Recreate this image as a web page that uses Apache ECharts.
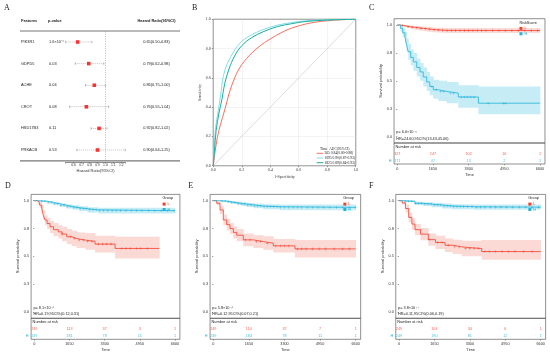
<!DOCTYPE html>
<html><head><meta charset="utf-8">
<script src="https://cdn.jsdelivr.net/npm/echarts@6/dist/echarts.min.js"></script>
<style>html,body{margin:0;padding:0;background:#fff}#c{width:550px;height:354px}</style>
</head><body><div id="c"></div>
<script>
// ================= DATA =================
// Panel A : forest plot
const features = ['PIK3R1','GDPD5','ACHE','CROT','HSD17B3','PRKACB'];
const pValues  = ['1.6×10⁻⁴','0.03','0.04','0.08','0.11','0.53'];
const hr       = [0.65,0.79,0.86,0.76,0.92,0.90];
const hrLow    = [0.50,0.62,0.75,0.55,0.82,0.64];
const hrHigh   = [0.83,0.98,1.00,1.04,1.02,1.25];
const hrTicks  = [0.6,0.7,0.8,0.9,1.0,1.1,1.2];

// Panel B : time-dependent ROC
const rocLegend = ['365 0.84(0.80-0.88)','1095 0.90(0.87-0.93)','1825 0.89(0.84-0.93)'];
const rocTicks = [0,0.2,0.4,0.6,0.8,1.0];
const roc365  = [[0,0],[0.01,0.08],[0.03,0.2],[0.05,0.28],[0.08,0.38],[0.11,0.49],[0.15,0.6],[0.2,0.69],[0.27,0.77],[0.33,0.82],[0.39,0.86],[0.5,0.92],[0.6,0.955],[0.7,0.978],[0.8,0.99],[0.9,0.997],[1,1]];
const roc1095 = [[0,0],[0.005,0.1],[0.015,0.25],[0.035,0.38],[0.05,0.47],[0.07,0.61],[0.1,0.7],[0.15,0.79],[0.2,0.85],[0.27,0.895],[0.35,0.93],[0.45,0.96],[0.55,0.978],[0.65,0.99],[0.8,0.997],[1,1]];
const roc1825 = [[0,0],[0.008,0.1],[0.02,0.24],[0.04,0.36],[0.06,0.45],[0.08,0.56],[0.11,0.66],[0.15,0.75],[0.2,0.82],[0.27,0.875],[0.35,0.915],[0.45,0.95],[0.55,0.97],[0.65,0.985],[0.8,0.995],[1,1]];

// Kaplan-Meier common
const riskTimes = [0,1650,3300,4950,6600];
const survTicks = [0,0.25,0.5,0.75,1];
const survTickLabels = ['0.0','0.3','0.5','0.8','1.0'];

// Panel C
const cLTime = [0,150,300,450,600,800,1000,1200,1400,1600,1800,2050,2300,6600];
const cLSurv = [1,0.995,0.99,0.985,0.98,0.975,0.97,0.966,0.962,0.958,0.955,0.952,0.95,0.95];
const cLLow  = [1,0.99,0.982,0.974,0.966,0.958,0.951,0.945,0.94,0.936,0.933,0.93,0.928,0.928];
const cLHigh = [1,1,0.997,0.995,0.993,0.99,0.987,0.984,0.981,0.978,0.976,0.975,0.974,0.974];
const cLCensor = [250,500,700,900,1100,1300,1500,1700,1900,2100,2300,2500,2700,2900,3100,3300,3500,3700,3900,4100,4400,4700,5000,5300,5600,5900,6200,6500];
const cHTime = [0,150,250,356,430,509,620,740,900,1050,1200,1360,1500,1665,1900,2285,2820,3750,6600];
const cHSurv = [1,0.97,0.93,0.89,0.82,0.76,0.71,0.67,0.62,0.58,0.535,0.49,0.45,0.42,0.405,0.39,0.355,0.30,0.30];
const cHLow  = [1,0.94,0.89,0.84,0.76,0.69,0.64,0.59,0.54,0.5,0.45,0.41,0.37,0.34,0.32,0.3,0.26,0.2,0.2];
const cHHigh = [1,0.99,0.97,0.94,0.88,0.83,0.78,0.75,0.7,0.66,0.62,0.58,0.54,0.51,0.5,0.49,0.46,0.45,0.45];
const cHCensor = [1600,1800,2000,2150,2450,2600,2950,3100,3250,3400,3550,4200,4900,5000];
const cRiskL = [327,247,102,16,1];
const cRiskH = [171,47,13,2,1];

// Panel D
const dLTime = [0,150,250,347,420,502,600,736,900,1126,1300,1520,1750,1989,2400,2850,3790,5863];
const dLSurv = [1,0.985,0.96,0.93,0.87,0.826,0.795,0.766,0.74,0.72,0.70,0.676,0.66,0.646,0.635,0.61,0.571,0.571];
const dLLow  = [1,0.97,0.935,0.9,0.83,0.78,0.745,0.71,0.68,0.66,0.635,0.61,0.59,0.575,0.56,0.535,0.48,0.48];
const dLHigh = [1,1,0.985,0.96,0.91,0.87,0.845,0.82,0.8,0.78,0.765,0.745,0.73,0.715,0.71,0.685,0.676,0.676];
const dLCensor = [1300,1700,1900,2100,2300,2500,2700,3000,3200,3400,3600,4100,4300,4500,4800,5000,5300];
const dHTime = [0,300,600,900,1200,1500,1800,2100,2500,3000,6600];
const dHSurv = [1,0.995,0.985,0.972,0.96,0.948,0.938,0.928,0.918,0.91,0.91];
const dHLow  = [1,0.99,0.975,0.96,0.945,0.93,0.918,0.906,0.895,0.885,0.885];
const dHHigh = [1,1,0.995,0.985,0.975,0.966,0.958,0.95,0.942,0.936,0.936];
const dHCensor = [350,500,650,800,950,1100,1250,1400,1550,1700,1850,2000,2150,2300,2450,2600,2750,2900,3050,3250,3450,3650,3850,4050,4300,4550,4800,5050,5350,5650,5950,6250,6550];
const dRiskL = [249,113,37,3,1];
const dRiskH = [249,181,78,15,1];

// Panel E
const eLTime = [0,157,310,464,620,774,930,1084,1390,1854,2317,2781,3786,6600];
const eLSurv = [1,0.977,0.917,0.827,0.785,0.75,0.715,0.69,0.648,0.633,0.618,0.594,0.567,0.567];
const eLLow  = [1,0.96,0.88,0.78,0.735,0.7,0.66,0.635,0.59,0.575,0.56,0.535,0.49,0.49];
const eLHigh = [1,0.995,0.955,0.875,0.835,0.8,0.77,0.745,0.705,0.69,0.68,0.655,0.648,0.648];
const eLCensor = [1500,1700,2000,2200,2500,2900,3100,3300,3500,3900,4100,4300,4600,4900,5200,5600,6000,6300];
const eHTime = [0,300,620,850,1084,1300,1547,1900,2317,3090,6600];
const eHSurv = [1,0.997,0.99,0.983,0.977,0.97,0.962,0.953,0.946,0.94,0.94];
const eHLow  = [1,0.99,0.98,0.97,0.962,0.953,0.943,0.932,0.923,0.915,0.915];
const eHHigh = [1,1,1,0.995,0.99,0.986,0.98,0.974,0.969,0.965,0.965];
const eHCensor = [400,550,700,850,1000,1150,1300,1450,1600,1750,1900,2050,2200,2350,2500,2650,2800,2950,3100,3300,3500,3700,3900,4100,4350,4600,4850,5100,5400,5700,6000,6300,6600];
const eRiskL = [249,110,37,7,1];
const eRiskH = [249,184,78,11,1];

// Panel F
const fLTime = [0,150,300,450,600,745,1000,1366,1700,2143,2500,2920,3852,6600];
const fLSurv = [1,0.98,0.93,0.85,0.79,0.74,0.70,0.65,0.625,0.60,0.585,0.57,0.543,0.543];
const fLLow  = [1,0.965,0.895,0.805,0.74,0.69,0.645,0.595,0.565,0.54,0.52,0.5,0.47,0.47];
const fLHigh = [1,0.995,0.965,0.895,0.84,0.79,0.755,0.705,0.685,0.66,0.65,0.64,0.648,0.648];
const fLCensor = [1400,1800,2000,2300,2600,2800,3100,3300,3500,3700,4000,4200,4500,4800,5100,5400,5800,6200];
const fHTime = [0,300,745,1100,1522,2000,2453,3500,6600];
const fHSurv = [1,0.995,0.977,0.97,0.962,0.953,0.946,0.942,0.942];
const fHLow  = [1,0.988,0.962,0.952,0.942,0.931,0.923,0.918,0.918];
const fHHigh = [1,1,0.99,0.986,0.981,0.975,0.968,0.965,0.965];
const fHCensor = [300,450,600,750,900,1050,1200,1350,1500,1650,1800,1950,2100,2250,2400,2550,2700,2850,3000,3200,3400,3600,3800,4000,4250,4500,4750,5000,5300,5600,5900,6200,6500];
const fRiskL = [249,104,34,6,1];
const fRiskH = [249,190,81,12,1];

// ================= STYLE / LAYOUT =================
const SANS = '"Liberation Sans", Arial, sans-serif';
const SERIF = '"Liberation Serif", "Times New Roman", serif';
const RED = '#F2402F', CYAN = '#20B2D8', RED_BAND = '#FBD9D5', CYAN_BAND = '#C6ECF6';
const ROC_RED = '#F4705F', ROC_CYAN = '#86DCE8', ROC_TEAL = '#17AE9E';

const chart = echarts.init(document.getElementById('c'), null, {renderer: 'canvas'});
const grids = [], xAxes = [], yAxes = [], series = [], graphics = [];

function txt(text, x, y, o) {
  o = o || {};
  graphics.push({type: 'text', x: x, y: y, rotation: o.rot || 0, silent: true, z: 100,
    style: {text: text, x: 0, y: 0, fill: o.color || '#222', fontSize: o.size || 4,
      fontFamily: o.font || SANS, fontWeight: o.weight || 'normal',
      align: o.align || 'left', textAlign: o.align || 'left',
      verticalAlign: 'middle', textVerticalAlign: 'middle'}});
}
function hline(x1, y1, x2, y2, color, w) {
  graphics.push({type: 'line', silent: true, z: 100, shape: {x1: x1, y1: y1, x2: x2, y2: y2},
    style: {stroke: color, lineWidth: w}});
}
function sq(x, y, s, color) {
  graphics.push({type: 'rect', silent: true, z: 100, shape: {x: x, y: y, width: s, height: s}, style: {fill: color}});
}

// ---------- Panel A ----------
grids.push({left: 65.7, top: 31.2, width: 59.6, height: 129.6, show: false});
xAxes.push({gridIndex: 0, type: 'value', min: 0.5, max: 1.25, offset: 1.5,
  axisLine: {show: true, lineStyle: {color: '#444', width: 0.6}},
  axisTick: {show: true, length: 1.2, customValues: [0.5].concat(hrTicks, [1.25]), lineStyle: {color: '#444', width: 0.5}},
  axisLabel: {customValues: hrTicks, fontSize: 3.4, margin: 1, color: '#333', fontFamily: SANS, formatter: v => v.toFixed(1)},
  splitLine: {show: false},
  name: 'Hazard Ratio(95%CI)', nameLocation: 'middle', nameGap: 6.5,
  nameTextStyle: {fontSize: 4, fontFamily: SANS, color: '#333'}});
yAxes.push({gridIndex: 0, type: 'category', data: features, inverse: true, show: false});
series.push({type: 'custom', xAxisIndex: 0, yAxisIndex: 0, silent: true, z: 2,
  data: features.map((f, i) => [hrLow[i], hrHigh[i], i]),
  encode: {x: [0, 1], y: 2},
  renderItem: function (params, api) {
    const a = api.coord([api.value(0), api.value(2)]);
    const b = api.coord([api.value(1), api.value(2)]);
    const st = {stroke: '#777', lineWidth: 0.5};
    return {type: 'group', children: [
      {type: 'line', shape: {x1: a[0], y1: a[1], x2: b[0], y2: b[1]}, style: {stroke: '#888', lineWidth: 0.5, lineDash: [1, 1]}},
      {type: 'line', shape: {x1: a[0], y1: a[1] - 1.2, x2: a[0], y2: a[1] + 1.2}, style: st},
      {type: 'line', shape: {x1: b[0], y1: b[1] - 1.2, x2: b[0], y2: b[1] + 1.2}, style: st}
    ]};
  }});
series.push({type: 'scatter', xAxisIndex: 0, yAxisIndex: 0, symbol: 'rect', symbolSize: 3.6, z: 3, silent: true,
  itemStyle: {color: '#FF0000'},
  data: features.map((f, i) => [hr[i], f]),
  markLine: {symbol: 'none', silent: true, label: {show: false},
    lineStyle: {type: [1.2, 1.2], color: '#888', width: 0.5}, data: [{xAxis: 1}]}});

// ---------- Panel B ----------
grids.push({left: 213.3, top: 19.3, width: 142.4, height: 146.4, show: true, borderColor: '#333', borderWidth: 0.8});
const rocAxisBase = {gridIndex: 1, type: 'value', min: 0, max: 1, interval: 0.2,
  axisLine: {show: false}, axisTick: {show: true, length: 1.5, lineStyle: {color: '#333', width: 0.5}},
  axisLabel: {fontSize: 4, fontFamily: SERIF, color: '#333', margin: 2.5, formatter: v => v.toFixed(1)},
  splitLine: {show: true, lineStyle: {color: '#e6e6e6', width: 0.5}},
  nameLocation: 'middle', nameTextStyle: {fontSize: 4, fontFamily: SERIF, color: '#333'}};
xAxes.push(Object.assign({}, rocAxisBase, {name: '1-Specificity', nameGap: 9}));
yAxes.push(Object.assign({}, rocAxisBase, {name: 'Sensitivity', nameGap: 8}));
series.push({type: 'line', xAxisIndex: 1, yAxisIndex: 1, data: [[0, 0], [1, 1]], showSymbol: false, silent: true,
  lineStyle: {color: '#bbb', width: 0.5}});
[[roc365, ROC_RED], [roc1095, ROC_CYAN], [roc1825, ROC_TEAL]].forEach(function (r) {
  series.push({type: 'line', xAxisIndex: 1, yAxisIndex: 1, data: r[0], smooth: 0.35, showSymbol: false, silent: true,
    lineStyle: {color: r[1], width: 1}});
});

// ---------- KM panels ----------
const XMIN = -150, XMAX = 6830, YPAD = 6.3;
const kmPanels = [
  {x0: 397.3, x1: 540, y1: 25, y0: 136.7, tb: 164, legTitle: 'RiskScore', legDx: -25.5,
   p: 'p= 6.0×10⁻¹¹', hrText: 'HR=24.60,95CI%(13.43,45.06)', riskL: cRiskL, riskH: cRiskH,
   L: [cLTime, cLSurv, cLLow, cLHigh, cLCensor], H: [cHTime, cHSurv, cHLow, cHHigh, cHCensor]},
  {x0: 34.3, x1: 175, y1: 200.7, y0: 312, tb: 339.3, legTitle: 'Group', legDx: -17.3,
   p: 'p= 8.1×10⁻¹⁴', hrText: 'HR=0.19,95CI%(0.12,0.31)', riskL: dRiskL, riskH: dRiskH,
   L: [dLTime, dLSurv, dLLow, dLHigh, dLCensor], H: [dHTime, dHSurv, dHLow, dHHigh, dHCensor]},
  {x0: 213.3, x1: 355.7, y1: 200.7, y0: 312, tb: 339.3, legTitle: 'Group', legDx: -17.3,
   p: 'p= 5.8×10⁻¹⁶', hrText: 'HR=0.12,95CI%(0.07,0.21)', riskL: eRiskL, riskH: eRiskH,
   L: [eLTime, eLSurv, eLLow, eLHigh, eLCensor], H: [eHTime, eHSurv, eHLow, eHHigh, eHCensor]},
  {x0: 399, x1: 540.7, y1: 200.7, y0: 312, tb: 339.3, legTitle: 'Group', legDx: -17.3,
   p: 'p= 3.8×10⁻¹⁷', hrText: 'HR=0.11,95CI%(0.06,0.19)', riskL: fRiskL, riskH: fRiskH,
   L: [fLTime, fLSurv, fLLow, fLHigh, fLCensor], H: [fHTime, fHSurv, fHLow, fHHigh, fHCensor]}
];

function stepAt(times, surv, t) {
  let v = surv[0];
  for (let i = 0; i < times.length; i++) { if (times[i] <= t) v = surv[i]; else break; }
  return v;
}
const plusPath = 'path://M-1,-0.18L1,-0.18L1,0.18L-1,0.18Z M-0.18,-1L0.18,-1L0.18,1L-0.18,1Z';

kmPanels.forEach(function (P) {
  const kx = (P.x1 - P.x0) / 6600;
  const ky = (P.y0 - P.y1);
  const left = P.x0 + XMIN * kx, right = P.x0 + XMAX * kx;
  const top = P.y1 - YPAD, bottom = P.y0 + YPAD;
  const gi = grids.length;
  grids.push({left: left, top: top, width: right - left, height: bottom - top, show: true, borderColor: '#444', borderWidth: 0.6});
  xAxes.push({gridIndex: gi, type: 'value', min: XMIN, max: XMAX, show: false, splitLine: {show: false}});
  yAxes.push({gridIndex: gi, type: 'value', min: -YPAD / ky, max: 1 + YPAD / ky,
    axisLine: {show: false}, splitLine: {show: false},
    axisTick: {show: true, customValues: survTicks, length: 1.3, lineStyle: {color: '#444', width: 0.5}},
    axisLabel: {customValues: survTicks, fontSize: 3.8, margin: 2, color: '#333', fontFamily: SANS,
      formatter: v => survTickLabels[survTicks.indexOf(+v.toFixed(2))]},
    name: 'Survival probability', nameLocation: 'middle', nameGap: 10,
    nameTextStyle: {fontSize: 4, fontFamily: SANS, color: '#333'}});
  const ti = grids.length;
  grids.push({left: left, top: bottom, width: right - left, height: P.tb - bottom, show: true, borderColor: '#444', borderWidth: 0.6});
  xAxes.push({gridIndex: ti, type: 'value', min: XMIN, max: XMAX,
    axisLine: {show: false}, splitLine: {show: false},
    axisTick: {show: true, customValues: riskTimes, length: 1.3, lineStyle: {color: '#444', width: 0.5}},
    axisLabel: {customValues: riskTimes, fontSize: 3.8, margin: 2.6, color: '#333', fontFamily: SANS,
      formatter: v => String(Math.round(v))},
    name: 'Time', nameLocation: 'middle', nameGap: 8.5, nameTextStyle: {fontSize: 4, fontFamily: SANS, color: '#333'}});
  yAxes.push({gridIndex: ti, type: 'category', data: ['H', 'L', 'T'],
    axisLine: {show: false}, axisTick: {show: false},
    axisLabel: {fontSize: 3.8, margin: 2.5, fontFamily: SANS, formatter: v => (v === 'T' ? '' : v),
      color: v => (v === 'L' ? RED : CYAN)}});

  // bands
  [[P.L, RED_BAND], [P.H, CYAN_BAND]].forEach(function (c) {
    const t = c[0][0], lo = c[0][2], hi = c[0][3];
    const data = [];
    for (let i = 0; i < t.length - 1; i++) data.push([t[i], t[i + 1], lo[i], hi[i]]);
    series.push({type: 'custom', xAxisIndex: gi, yAxisIndex: gi, silent: true, z: 1, clip: true,
      data: data, encode: {x: [0, 1], y: [2, 3]},
      renderItem: function (params, api) {
        const a = api.coord([api.value(0), api.value(3)]);
        const b = api.coord([api.value(1), api.value(2)]);
        return {type: 'rect', shape: {x: a[0], y: a[1], width: b[0] - a[0] + 0.4, height: b[1] - a[1]},
          style: {fill: c[1]}};
      }});
  });
  // curves + censor marks
  [[P.L, RED], [P.H, CYAN]].forEach(function (c) {
    const t = c[0][0], s = c[0][1], cens = c[0][4];
    series.push({type: 'line', xAxisIndex: gi, yAxisIndex: gi, step: 'end', showSymbol: false, silent: true, z: 3,
      data: t.map((v, i) => [v, s[i]]), lineStyle: {color: c[1], width: 0.8}});
    series.push({type: 'scatter', xAxisIndex: gi, yAxisIndex: gi, symbol: plusPath, symbolSize: 2.6, silent: true, z: 4,
      itemStyle: {color: c[1]}, data: cens.map(v => [v, stepAt(t, s, v)])});
  });
  // risk table numbers
  [[P.riskL, 'L', RED], [P.riskH, 'H', CYAN]].forEach(function (r) {
    series.push({type: 'scatter', xAxisIndex: ti, yAxisIndex: ti, symbolSize: 0.01, silent: true,
      itemStyle: {color: 'rgba(0,0,0,0)'},
      label: {show: true, position: 'inside', formatter: p => String(p.value[2]), color: r[2], fontSize: 3.8, fontFamily: SANS},
      data: riskTimes.map((tt, i) => [tt, r[1], r[0][i]])});
  });
  // texts
  txt('Number at risk', left + 1.5, bottom + (P.tb - bottom) / 6, {size: 3.9});
  txt(P.p, left + 2.3, P.y0 - 4.5, {size: 3.8});
  txt(P.hrText, left + 2.3, P.y0 + 2.3, {size: 3.8});
  const lx = right + P.legDx;
  txt(P.legTitle, lx, top + 3.8, {size: 3.8});
  sq(lx, top + 8.2, 3, RED);
  sq(lx, top + 13.6, 3, CYAN);
  txt('L', lx + 5, top + 9.7, {size: 3.8, color: RED});
  txt('H', lx + 5, top + 15.1, {size: 3.8, color: CYAN});
});

// ---------- static texts ----------
txt('A', 4, 7.5, {size: 8, font: SERIF});
txt('B', 192, 7.5, {size: 8, font: SERIF});
txt('C', 369, 8.3, {size: 8, font: SERIF});
txt('D', 5, 185.5, {size: 8, font: SERIF});
txt('E', 188.3, 185.5, {size: 8, font: SERIF});
txt('F', 369, 185.5, {size: 8, font: SERIF});

// forest headers and lines
txt('Features', 21, 20.7, {size: 3.9, weight: 'bold'});
txt('p-value', 48, 20.7, {size: 3.9, weight: 'bold'});
txt('Hazard Ratio(95%CI)', 156.5, 20.7, {size: 3.9, weight: 'bold', align: 'center'});
hline(20, 31, 180, 31, '#777', 1.2);
hline(20, 160.8, 180, 160.8, '#777', 1.2);

// ROC legend
txt('Time  AUC(95%CI)', 320, 148.7, {size: 3.6, font: SERIF});
[[ROC_RED, 153.3], [ROC_CYAN, 158], [ROC_TEAL, 162.7]].forEach(function (l, i) {
  hline(316.7, l[1], 323.3, l[1], l[0], 1);
  txt(rocLegend[i], 324.5, l[1], {size: 3.6, font: SERIF});
});

chart.setOption({animation: false, backgroundColor: '#fff', grid: grids, xAxis: xAxes, yAxis: yAxes, series: series});

// forest per-row text columns positioned through the category axis
features.forEach(function (f, i) {
  const y = chart.convertToPixel({yAxisIndex: 0}, f);
  txt(f, 21, y, {size: 3.9});
  txt(pValues[i], 49, y, {size: 3.9});
  txt(hr[i].toFixed(2) + '(' + hrLow[i].toFixed(2) + '-' + hrHigh[i].toFixed(2) + ')', 156.5, y, {size: 3.9, align: 'center'});
});
chart.setOption({graphic: {elements: graphics}});
</script>
</body></html>
